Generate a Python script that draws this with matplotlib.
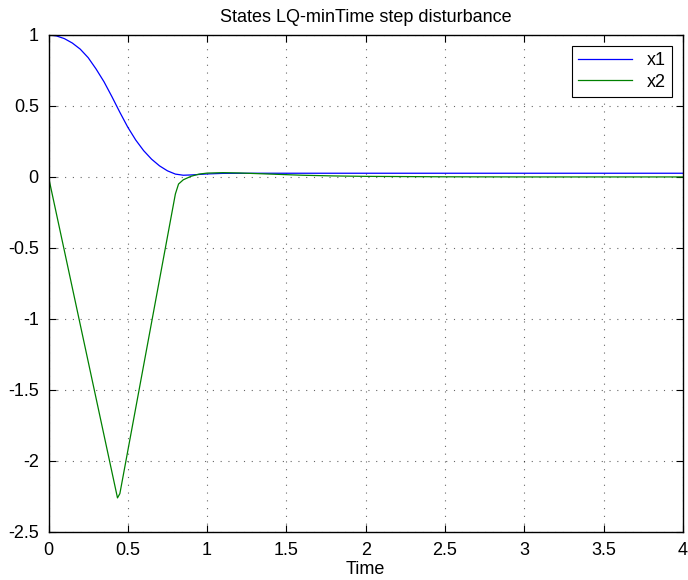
import matplotlib
matplotlib.use("Agg")
import matplotlib.pyplot as plt

# values
t_x1 = [0, 0.05, 0.1, 0.15, 0.2, 0.25, 0.3, 0.35, 0.4, 0.45, 0.5, 0.55, 0.6, 0.65, 0.7,
        0.75, 0.8, 0.85, 0.9, 1.0, 1.1, 1.3, 1.6, 2, 3, 4]
x1 = [1, 0.993, 0.974, 0.943, 0.9, 0.84, 0.76, 0.67, 0.565, 0.455, 0.35, 0.26, 0.185,
      0.125, 0.078, 0.043, 0.02, 0.012, 0.014, 0.021, 0.025, 0.026, 0.026, 0.026, 0.026,
      0.026]

t_x2 = [0, 0.435, 0.45, 0.8, 0.82, 0.85, 0.9, 0.95, 1.0, 1.1, 1.2, 1.4, 1.6, 1.8,
        2.0, 2.5, 3, 4]
x2 = [0, -2.26, -2.23, -0.12, -0.05, -0.02, 0.005, 0.02, 0.027, 0.03, 0.028, 0.02,
      0.012, 0.007, 0.004, 0.001, 0, 0]

xticks = [0, 0.5, 1, 1.5, 2, 2.5, 3, 3.5, 4]
yticks = [-2.5, -2, -1.5, -1, -0.5, 0, 0.5, 1]

plt.rcParams['font.family'] = ['Liberation Sans', 'DejaVu Sans']
plt.rcParams['font.size'] = 13

fig = plt.figure(figsize=(6.88, 5.8), dpi=100)
ax = fig.add_axes([0.0705, 0.0828, 0.922, 0.857])

ax.plot(t_x1, x1, color=(0, 0, 1), lw=0.9, label='x1')
ax.plot(t_x2, x2, color=(0, 0.5, 0), lw=0.9, label='x2')

ax.set_xlim(0, 4)
ax.set_ylim(-2.5, 1)
ax.set_xticks(xticks)
ax.set_yticks(yticks)
ax.set_xticklabels(['%g' % v for v in xticks])
ax.set_yticklabels(['%g' % v for v in yticks])
ax.tick_params(direction='in', top=True, right=True, length=5, width=0.8, pad=7,
               labelsize=13)
ax.grid(True, color='black', linestyle=(0, (1, 6)), lw=0.8, alpha=0.6)
for s in ax.spines.values():
    s.set_linewidth(1.0)

ax.set_title('States LQ-minTime step disturbance', fontsize=13, pad=9)
ax.set_xlabel('Time', fontsize=13, labelpad=2)

leg = ax.legend(loc='upper right', fancybox=False, edgecolor='black', framealpha=1,
                fontsize=13, borderaxespad=0.6, handlelength=3.0, labelspacing=0.25,
                borderpad=0.35)
leg.get_frame().set_linewidth(0.8)

fig.savefig('out.png', dpi=100)
